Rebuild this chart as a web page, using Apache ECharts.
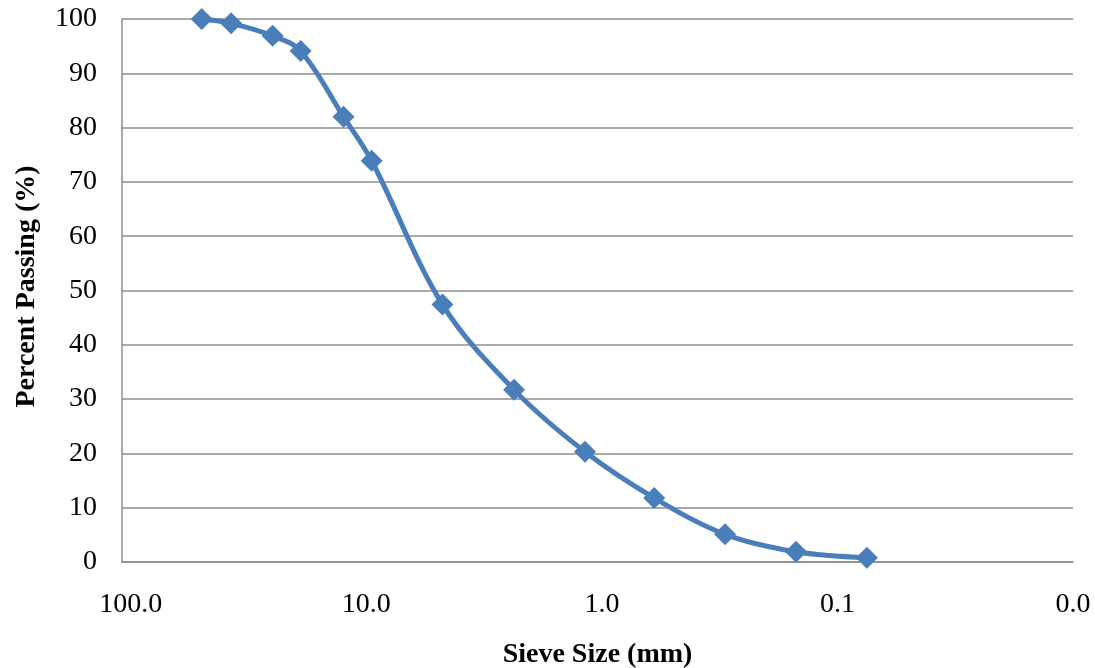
<!DOCTYPE html>
<html>
<head>
<meta charset="utf-8">
<title>Sieve Analysis</title>
<script src="https://cdn.jsdelivr.net/npm/echarts@6/dist/echarts.min.js"></script>
<style>
  html, body { margin: 0; padding: 0; background: #ffffff; }
  #chart { width: 1095px; height: 668px; }
</style>
</head>
<body>
<div id="chart"></div>
<script>
// Sieve opening sizes (mm) and cumulative percent passing
const sieveSizes = [50, 37.5, 25, 19, 12.5, 9.5, 4.75, 2.36, 1.18, 0.6, 0.3, 0.15, 0.075];
const percentPassing = [100, 99.2, 96.9, 94.1, 82.0, 73.9, 47.4, 31.7, 20.3, 11.8, 5.1, 1.9, 0.8];

// Axis ranges and tick settings
const xRange = [0.01, 109];
const yTicks = { min: 0, max: 100, interval: 10 };

const FONT = '"Liberation Serif", "Times New Roman", serif';
const GRID_COLOR = '#8c8c8c';

const chart = echarts.init(document.getElementById('chart'), null, { renderer: 'canvas' });

chart.setOption({
  animation: false,
  backgroundColor: '#ffffff',
  grid: {
    left: 122, right: 22, top: 19, bottom: 106,
    outerBoundsMode: 'none'
  },
  xAxis: {
    type: 'log',
    logBase: 10,
    min: xRange[0],
    max: xRange[1],
    inverse: true,
    name: 'Sieve Size (mm)',
    nameLocation: 'middle',
    nameGap: 79,
    nameTextStyle: { fontFamily: FONT, fontSize: 28, fontWeight: 'bold', color: '#000' },
    axisLine: { show: true, lineStyle: { color: GRID_COLOR, width: 1.5 } },
    axisTick: { show: false },
    splitLine: { show: false },
    axisLabel: {
      margin: 29,
      fontFamily: FONT,
      fontSize: 28,
      color: '#000',
      showMaxLabel: false,
      formatter: function (v) {
        const p = Math.log10(v);
        if (Math.abs(p - Math.round(p)) > 1e-6) return '';
        return v.toFixed(1);
      }
    }
  },
  yAxis: {
    type: 'value',
    min: yTicks.min,
    max: yTicks.max,
    interval: yTicks.interval,
    name: 'Percent Passing (%)',
    nameLocation: 'middle',
    nameGap: 81,
    nameRotate: 90,
    nameTextStyle: { fontFamily: FONT, fontSize: 28, fontWeight: 'bold', color: '#000', padding: [0, 0, 0, 8] },
    axisLine: { show: true, lineStyle: { color: GRID_COLOR, width: 1.5 } },
    axisTick: { show: false },
    splitLine: { show: true, lineStyle: { color: GRID_COLOR, width: 1.5 } },
    axisLabel: { margin: 25, fontFamily: FONT, fontSize: 28, color: '#000' }
  },
  series: [{
    type: 'line',
    data: sieveSizes.map((s, i) => [s, percentPassing[i]]),
    smooth: 0.35,
    symbol: 'diamond',
    symbolSize: 22,
    itemStyle: { color: '#4a7ebb' },
    lineStyle: { color: '#4a7ebb', width: 5 },
    clip: false
  }]
});
</script>
</body>
</html>
